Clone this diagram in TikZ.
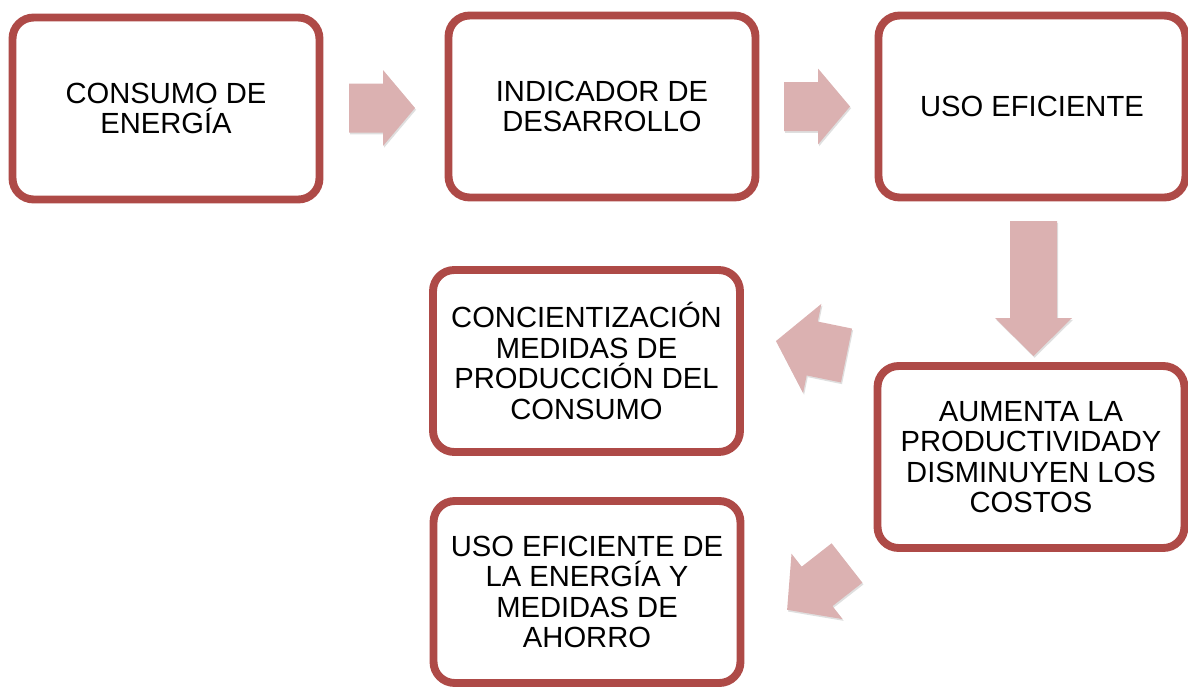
\documentclass[tikz,border=0pt]{standalone}
\usepackage{fontspec}
\setmainfont{Liberation Sans}
\usetikzlibrary{shadows}
\definecolor{boxred}{HTML}{AE4A47}
\definecolor{arrowpink}{HTML}{DBB1B1}

\begin{document}
\begin{tikzpicture}[x=0.02cm, y=-0.02cm,
				every node/.style={font=\fontsize{16.6}{17.4}\selectfont, align=center},
				box/.style={draw=boxred, line width=4.5pt, fill=white, rounded corners=12pt,
					minimum width=6.14cm, minimum height=3.64cm, inner sep=0pt,
					drop shadow={shadow xshift=0.6pt, shadow yshift=-1.4pt, fill=black!30}},
				pics/blkarrow/.style n args={4}{code={
					\fill[arrowpink, drop shadow={shadow xshift=0.6pt, shadow yshift=-1pt, fill=black!25}]
						(0,-#2/2) -- (#1-#4,-#2/2) -- (#1-#4,-#3/2) -- (#1,0)
						-- (#1-#4,#3/2) -- (#1-#4,#2/2) -- (0,#2/2) -- cycle;
				}}
				]
				\useasboundingbox (0,0) rectangle (1188,687);
				\node[box] (consumo) at (166,108.5) {CONSUMO DE\\ENERGÍA};
				\node[box] (indicador) at (602,106.5) {INDICADOR DE\\DESARROLLO};
				\node[box] (uso) at (1032,106.5) {USO EFICIENTE};
				\node[box] (concientiza) at (586.5,361) {CONCIENTIZACIÓN\\MEDIDAS DE\\PRODUCCIÓN DEL\\CONSUMO};
				\node[box] (aumenta) at (1031,457) {AUMENTA LA\\PRODUCTIVIDADY\\DISMINUYEN LOS\\COSTOS};
				\node[box] (ahorro) at (587,592) {USO EFICIENTE DE\\LA ENERGÍA Y\\MEDIDAS DE\\AHORRO};
				\pic at (349,108) {blkarrow={66}{49}{76}{32}};
				\pic at (784,106.5) {blkarrow={66}{49}{76}{32}};
				\pic[rotate=-90] at (1033.5,221) {blkarrow={135}{47}{77}{38}};
				\pic[rotate=168.4] at (846.5,355.5) {blkarrow={72}{55}{91}{37}};
				\pic[rotate=218] at (847,563) {blkarrow={76}{50}{83}{38}};
			\end{tikzpicture}
\end{document}
